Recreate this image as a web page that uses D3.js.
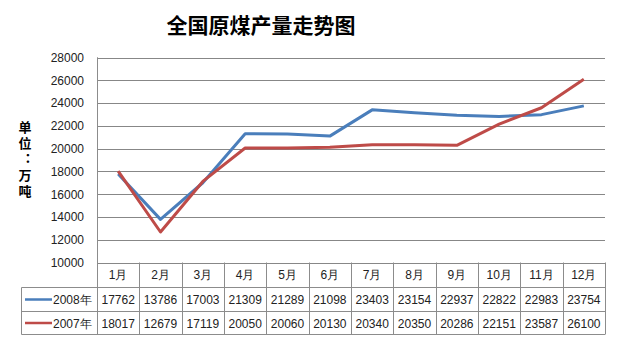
<!DOCTYPE html>
<html><head><meta charset="utf-8">
<script src="https://cdn.jsdelivr.net/npm/d3@7"></script>
<style>body{margin:0;background:#fff}svg{display:block}</style>
</head><body><svg id="c" width="617" height="339"></svg>
<script>
const title = "全国原煤产量走势图";
const unitLabel = "单位：万吨";
const months = ["1月","2月","3月","4月","5月","6月","7月","8月","9月","10月","11月","12月"];
const seriesNames = ["2008年","2007年"];
const values2008 = [17762,13786,17003,21309,21289,21098,23403,23154,22937,22822,22983,23754];
const values2007 = [18017,12679,17119,20050,20060,20130,20340,20350,20286,22151,23587,26100];
const yTicks = [10000,12000,14000,16000,18000,20000,22000,24000,26000,28000];
const colors = ["#4a7ebb","#be4b48"];

const svg = d3.select("#c");
const L = 97, R = 605, T = 57.5, B = 262.5;
const x = d3.scaleBand().domain(months).range([L, R]);
const y = d3.scaleLinear().domain([10000, 28000]).range([B, T]);
const font = "Arial, 'Liberation Sans', sans-serif";

svg.append("text").attr("x", 261).attr("y", 33).attr("text-anchor","middle")
  .attr("font-family","'Noto Sans CJK SC'").attr("font-weight","bold").attr("font-size",21)
  .attr("fill","#000").text(title);

// gridlines
svg.append("g").selectAll("line").data(yTicks).join("line")
  .attr("x1", L).attr("x2", R).attr("y1", d => Math.round(y(d))+0.5).attr("y2", d => Math.round(y(d))+0.5)
  .attr("stroke","#878787").attr("stroke-width",1);

// y axis
const yAxis = d3.axisLeft(y).tickValues(yTicks).tickSize(0).tickPadding(13).tickFormat(d3.format("d"));
const ga = svg.append("g").attr("transform", `translate(${L},0)`).call(yAxis);
ga.select(".domain").remove();
ga.selectAll("text").attr("font-family", font).attr("font-size", 12).attr("fill","#222");
svg.append("line").attr("x1",L+0.5).attr("x2",L+0.5).attr("y1",T).attr("y2",B).attr("stroke","#878787");

// unit label, vertical
svg.append("text").attr("x", 25).attr("y", 121)
  .attr("font-family","'Noto Sans CJK SC'").attr("font-weight","bold").attr("font-size",13)
  .style("writing-mode","vertical-rl").style("text-orientation","upright")
  .style("font-feature-settings","'vert' 0, 'vrt2' 0").style("letter-spacing","3px")
  .attr("fill","#000").text(unitLabel);

// table
const rowY = [262.5, 287.5, 311.5, 334.5];
const tbl = svg.append("g").attr("stroke","#8c8c8c").attr("stroke-width",1).attr("fill","none");
tbl.append("line").attr("x1", 21.5).attr("x2", R).attr("y1", rowY[1]).attr("y2", rowY[1]);
tbl.append("line").attr("x1", 21.5).attr("x2", R).attr("y1", rowY[2]).attr("y2", rowY[2]);
tbl.append("line").attr("x1", 21.5).attr("x2", R).attr("y1", rowY[3]).attr("y2", rowY[3]);
tbl.append("line").attr("x1", 21.5).attr("x2", 21.5).attr("y1", rowY[1]).attr("y2", rowY[3]);
const edges = months.map(m => x(m)).concat([R]);
tbl.selectAll("line.v").data(edges).join("line").attr("class","v")
  .attr("x1", d => Math.round(d)+0.5).attr("x2", d => Math.round(d)+0.5)
  .attr("y1", (d,i) => i===0 ? T : rowY[0]).attr("y2", rowY[3]);

// header month labels
svg.append("g").selectAll("text").data(months).join("text")
  .attr("x", d => x(d) + x.bandwidth()/2).attr("y", 279).attr("text-anchor","middle")
  .attr("font-family", font).attr("font-size", 12).attr("fill","#222").text(d => d);

const rows = [values2008, values2007];
rows.forEach((vals, r) => {
  const cy = (rowY[r+1] + rowY[r+2]) / 2;
  svg.append("g").selectAll("text").data(vals).join("text")
    .attr("x", (d,i) => x(months[i]) + x.bandwidth()/2).attr("y", cy + 4.5).attr("text-anchor","middle")
    .attr("font-family", font).attr("font-size", 12).attr("fill","#222").text(d => d);
  svg.append("line").attr("x1", 25).attr("x2", 52).attr("y1", cy).attr("y2", cy)
    .attr("stroke", colors[r]).attr("stroke-width", 2.5);
  svg.append("text").attr("x", 53).attr("y", cy + 4.5)
    .attr("font-family", font).attr("font-size", 12).attr("fill","#222").text(seriesNames[r]);
});

// lines
const line = d3.line().x((d,i) => x(months[i]) + x.bandwidth()/2).y(d => y(d));
[values2008, values2007].forEach((vals, r) => {
  svg.append("path").datum(vals).attr("d", line).attr("fill","none")
    .attr("stroke", colors[r]).attr("stroke-width", 3).attr("stroke-linejoin","round");
});
</script></body></html>
